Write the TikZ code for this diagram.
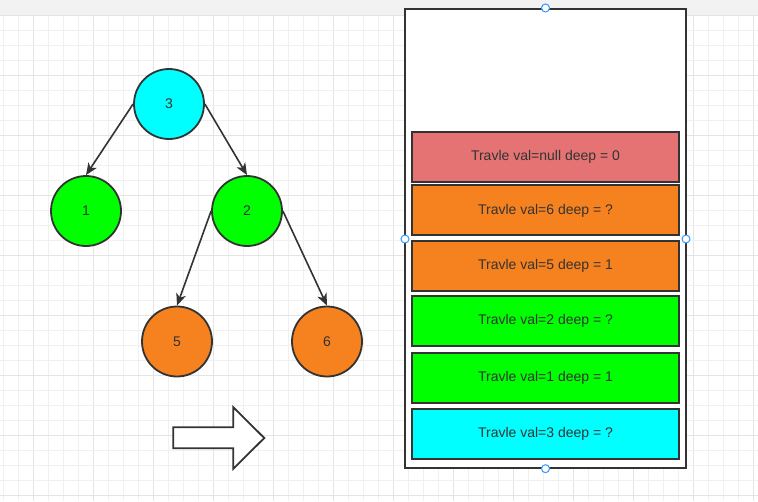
\documentclass[tikz,border=0pt]{standalone}
\usepackage{fontspec}
\setmainfont{Liberation Sans}
\usetikzlibrary{arrows.meta}
\definecolor{ink}{HTML}{333333}
\definecolor{gridminor}{HTML}{F0F0F0}
\definecolor{gridmajor}{HTML}{E4E4E4}
\definecolor{topbar}{HTML}{F2F2F2}
\definecolor{cyanfill}{HTML}{00FFFF}
\definecolor{greenfill}{HTML}{00FF00}
\definecolor{orangefill}{HTML}{F5821F}
\definecolor{redfill}{HTML}{E57373}
\definecolor{handle}{HTML}{3399FF}
\tikzset{
  treenode/.style={circle, draw=ink, line width=1.8pt, minimum size=70pt, inner sep=0pt, font=\fontsize{14}{16}\selectfont, text=ink},
  framebox/.style={rectangle, draw=ink, line width=2pt, minimum width=267pt, minimum height=50pt, inner sep=0pt, font=\fontsize{14}{16}\selectfont, text=ink},
  edge/.style={draw=ink, line width=1.6pt, -{Stealth[length=12pt,width=10pt,inset=3.5pt]}},
  selhandle/.style={circle, draw=handle, fill=white, line width=1pt, minimum size=8pt, inner sep=0pt},
}
\begin{document}
\begin{tikzpicture}[x=1pt,y=-1pt]
\useasboundingbox (0,0) rectangle (758,501);
% background
\fill[white] (0,0) rectangle (758,501);
\fill[topbar] (0,0) rectangle (758,15);
\foreach \i in {0,...,50} {
  \pgfmathsetmacro{\xx}{3.3+15*\i}
  \pgfmathtruncatemacro{\mm}{mod(\i,4)}
  \ifnum\mm=2
    \draw[gridmajor, line width=0.8pt] (\xx,15) -- (\xx,501);
  \else
    \draw[gridminor, line width=0.8pt] (\xx,15) -- (\xx,501);
  \fi
}
\foreach \j in {1,...,33} {
  \pgfmathsetmacro{\yy}{15*\j}
  \pgfmathtruncatemacro{\mm}{mod(\j,4)}
  \ifnum\mm=1
    \draw[gridmajor, line width=0.8pt] (0,\yy) -- (758,\yy);
  \else
    \draw[gridminor, line width=0.8pt] (0,\yy) -- (758,\yy);
  \fi
}
% tree
\node[treenode, fill=cyanfill] (n3) at (169,104) {3};
\node[treenode, fill=greenfill] (n1) at (86,211) {1};
\node[treenode, fill=greenfill] (n2) at (247,211) {2};
\node[treenode, fill=orangefill] (n5) at (177,341.5) {5};
\node[treenode, fill=orangefill] (n6) at (327,341.5) {6};
\draw[edge] (n3.west) -- (n1.north);
\draw[edge] (n3.east) -- (n2.north);
\draw[edge] (n2.west) -- (n5.north);
\draw[edge] (n2.east) -- (n6.north);
% block arrow
\draw[ink, line width=1.8pt, fill=white, line join=miter]
  (173.3,427.3) -- (233.3,427.3) -- (233.3,407.3) -- (264.3,438) -- (233.3,468.7) -- (233.3,448.3) -- (173.3,448.3) -- cycle;
% stack frame
\node[draw=ink, line width=2pt, fill=white, minimum width=281pt, minimum height=458.7pt, inner sep=0pt] (stack) at (545.5,238.35) {};
\node[framebox, fill=redfill] (s1) at (545.5,157.3) {Travle val=null deep = 0};
\node[framebox, fill=orangefill] (s2) at (545.5,210.4) {Travle val=6 deep = ?};
\node[framebox, fill=orangefill] (s3) at (545.5,265.5) {Travle val=5 deep = 1};
\node[framebox, fill=greenfill] (s4) at (545.5,320.9) {Travle val=2 deep = ?};
\node[framebox, fill=greenfill] (s5) at (545.5,377.7) {Travle val=1 deep = 1};
\node[framebox, fill=cyanfill] (s6) at (545.5,434.3) {Travle val=3 deep = ?};
% selection handles
\node[selhandle] (h1) at (stack.north) {};
\node[selhandle] (h2) at (stack.south) {};
\node[selhandle] (h3) at (405,239) {};
\node[selhandle] (h4) at (686,239) {};
\end{tikzpicture}
\end{document}
